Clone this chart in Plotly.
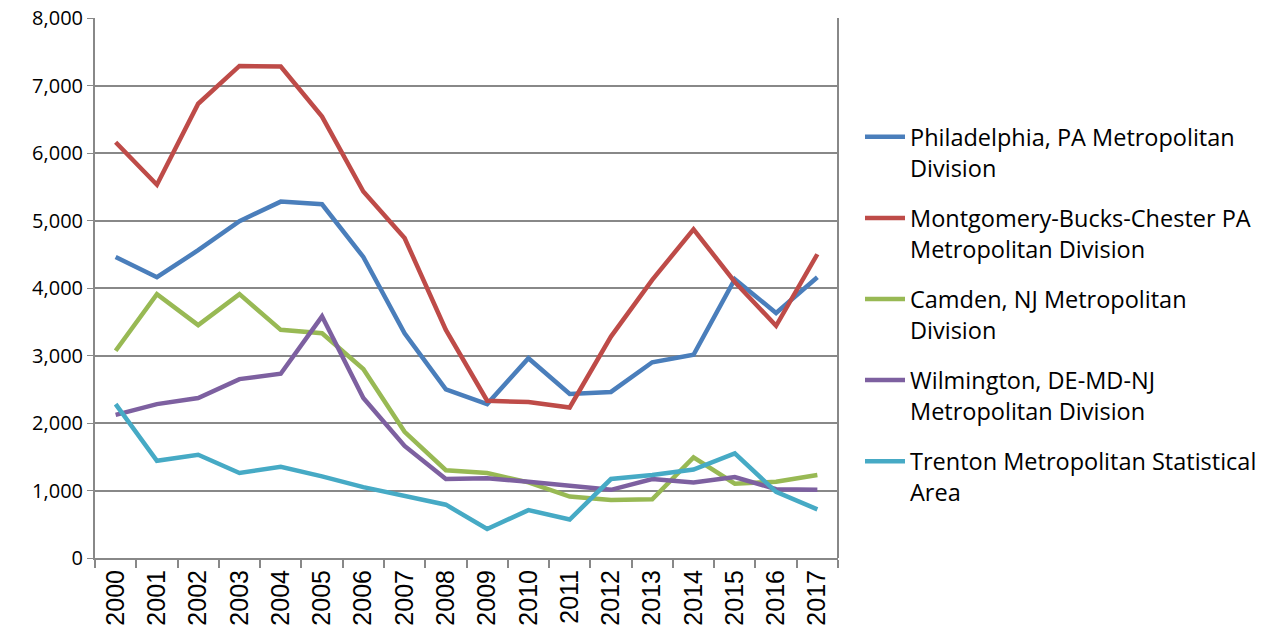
import plotly.graph_objects as go

years = [str(y) for y in range(2000, 2018)]
philadelphia = [4460, 4160, 4560, 4990, 5280, 5240, 4460, 3330, 2500, 2280, 2960, 2430, 2460, 2900, 3010, 4130, 3630, 4160]
montgomery = [6160, 5530, 6730, 7290, 7280, 6540, 5430, 4740, 3380, 2330, 2310, 2230, 3280, 4120, 4870, 4090, 3440, 4500]
camden = [3070, 3910, 3450, 3910, 3380, 3330, 2800, 1870, 1300, 1260, 1120, 910, 860, 870, 1490, 1100, 1130, 1230]
wilmington = [2120, 2280, 2370, 2650, 2730, 3580, 2370, 1660, 1170, 1180, 1130, 1070, 1010, 1170, 1120, 1200, 1020, 1010]
trenton = [2280, 1440, 1530, 1260, 1350, 1210, 1050, 920, 790, 430, 710, 570, 1170, 1230, 1310, 1550, 980, 720]

series = [
    ("Philadelphia, PA Metropolitan<br>Division", philadelphia, "#4a7ebb"),
    ("Montgomery-Bucks-Chester PA<br>Metropolitan Division", montgomery, "#be4b48"),
    ("Camden, NJ Metropolitan<br>Division", camden, "#98b954"),
    ("Wilmington, DE-MD-NJ<br>Metropolitan Division", wilmington, "#7d60a0"),
    ("Trenton Metropolitan Statistical<br>Area", trenton, "#46aac5"),
]

fig = go.Figure()
for i, (name, vals, color) in enumerate(series):
    fig.add_trace(go.Scatter(x=years, y=vals, name=name, mode="lines", legendgroup=f"g{i}",
                             line=dict(color=color, width=4.5)))

font = "Open Sans, Liberation Sans, sans-serif"
fig.update_layout(
    width=1269, height=633,
    margin=dict(l=95, r=431, t=18, b=75),
    plot_bgcolor="white", paper_bgcolor="white",
    font=dict(family=font, size=20, color="#000000"),
    showlegend=True,
    legend=dict(xref="container", yref="container", x=0.6777, xanchor="left",
                y=0.8183, yanchor="top", maxheight=620,
                font=dict(size=23.5), valign="top", itemwidth=40,
                tracegroupgap=17),
    xaxis=dict(type="category", showgrid=False, showline=True, linecolor="#888888", linewidth=2,
               ticks="outside", tickson="boundaries", ticklen=8, tickcolor="#888888", tickwidth=1.5,
               tickangle=-90, tickfont=dict(size=25, family="Liberation Sans, Arial, sans-serif"),
               range=[-0.5, 17.5], automargin=False),
    yaxis=dict(range=[0, 8000], dtick=1000, tickformat=",", showgrid=True, gridcolor="#888888",
               gridwidth=2, showline=True, linecolor="#888888", linewidth=2, ticks="outside",
               ticklen=6, tickcolor="#888888", tickfont=dict(size=20), zeroline=False,
               automargin=False),
)
fig.add_shape(type="line", xref="paper", yref="paper", x0=1, x1=1, y0=0, y1=1,
              line=dict(color="#888888", width=2))

post = ("document.body.style.margin='0px';"
        "document.body.style.overflow='hidden';"
        "document.documentElement.style.overflow='hidden';"
        "Plotly.relayout('{plot_id}', {width: 1269, height: 633});")
fig.write_html("out.html", config={"displayModeBar": False, "responsive": False},
               post_script=post)
